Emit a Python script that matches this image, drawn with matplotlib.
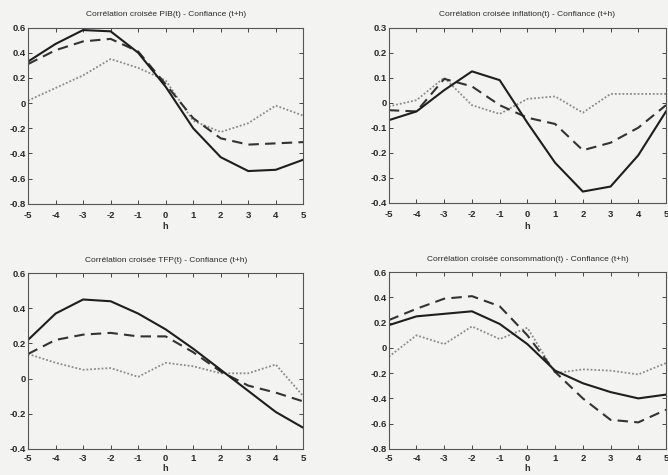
import numpy as np
import matplotlib
matplotlib.use("Agg")
import matplotlib.pyplot as plt

# horizons
h = [-5, -4, -3, -2, -1, 0, 1, 2, 3, 4, 5]

# PIB(t) - Confiance(t+h)
pib_solid = [0.33, 0.47, 0.58, 0.57, 0.40, 0.13, -0.20, -0.43, -0.54, -0.53, -0.45]
pib_dash = [0.31, 0.42, 0.49, 0.51, 0.41, 0.15, -0.12, -0.28, -0.33, -0.32, -0.31]
pib_dot = [0.02, 0.12, 0.22, 0.35, 0.28, 0.18, -0.14, -0.23, -0.16, -0.02, -0.10]

# inflation(t) - Confiance(t+h)
inf_solid = [-0.07, -0.035, 0.05, 0.125, 0.09, -0.08, -0.24, -0.355, -0.335, -0.21, -0.035]
inf_dash = [-0.03, -0.035, 0.095, 0.065, -0.01, -0.06, -0.085, -0.19, -0.16, -0.10, -0.01]
inf_dot = [-0.015, 0.01, 0.10, -0.01, -0.045, 0.015, 0.025, -0.04, 0.035, 0.035, 0.035]

# TFP(t) - Confiance(t+h)
tfp_solid = [0.22, 0.37, 0.45, 0.44, 0.37, 0.28, 0.17, 0.05, -0.07, -0.19, -0.28]
tfp_dash = [0.14, 0.22, 0.25, 0.26, 0.24, 0.24, 0.15, 0.04, -0.04, -0.08, -0.13]
tfp_dot = [0.14, 0.09, 0.05, 0.06, 0.01, 0.09, 0.07, 0.03, 0.03, 0.08, -0.10]

# consommation(t) - Confiance(t+h)
cons_solid = [0.18, 0.25, 0.27, 0.29, 0.19, 0.03, -0.18, -0.28, -0.35, -0.40, -0.37]
cons_dash = [0.22, 0.31, 0.39, 0.41, 0.33, 0.10, -0.19, -0.40, -0.57, -0.59, -0.49]
cons_dot = [-0.07, 0.10, 0.03, 0.17, 0.07, 0.16, -0.20, -0.17, -0.18, -0.21, -0.12]

titles = [
    "Corrélation croisée PIB(t) - Confiance (t+h)",
    "Corrélation croisée inflation(t) - Confiance (t+h)",
    "Corrélation croisée TFP(t) - Confiance (t+h)",
    "Corrélation croisée consommation(t) - Confiance (t+h)",
]
ylims = [(-0.8, 0.6), (-0.4, 0.3), (-0.4, 0.6), (-0.8, 0.6)]
yticks = [
    [-0.8, -0.6, -0.4, -0.2, 0, 0.2, 0.4, 0.6],
    [-0.4, -0.3, -0.2, -0.1, 0, 0.1, 0.2, 0.3],
    [-0.4, -0.2, 0, 0.2, 0.4, 0.6],
    [-0.8, -0.6, -0.4, -0.2, 0, 0.2, 0.4, 0.6],
]
series = [
    (pib_solid, pib_dash, pib_dot),
    (inf_solid, inf_dash, inf_dot),
    (tfp_solid, tfp_dash, tfp_dot),
    (cons_solid, cons_dash, cons_dot),
]
positions = [
    [0.042, 0.571, 0.412, 0.371],
    [0.582, 0.573, 0.415, 0.369],
    [0.042, 0.055, 0.412, 0.370],
    [0.582, 0.055, 0.415, 0.372],
]

plt.rcParams["font.family"] = ["Liberation Sans", "DejaVu Sans"]
plt.rcParams["axes.unicode_minus"] = False
bg = "#f3f3f1"
ink = "#2a2a2a"
fig = plt.figure(figsize=(6.68, 4.75), dpi=100, facecolor=bg)

for i, (pos, title, yl, yt, (s, d, o)) in enumerate(
        zip(positions, titles, ylims, yticks, series)):
    bottom_row = i >= 2
    ax = fig.add_axes(pos)
    ax.set_facecolor(bg)
    ax.plot(h, o, color="#8a8a8a", lw=1.3, ls=(0, (1, 1.1)))
    ax.plot(h, d, color="#333333", lw=1.5, ls=(0, (5, 3)))
    ax.plot(h, s, color="#1e1e1e", lw=1.5)
    ax.set_xlim(-5, 5)
    ax.set_ylim(*yl)
    ax.set_xticks(h)
    ax.set_yticks(yt)
    ax.set_yticklabels(["%g" % v for v in yt])
    ax.tick_params(direction="in", length=3, labelsize=6.8, width=0.6,
                   top=True, right=True, colors=ink)
    ax.tick_params(axis="x", pad=4 if bottom_row else 5)
    ax.tick_params(axis="y", pad=1.5)
    for lab in ax.get_xticklabels() + ax.get_yticklabels():
        lab.set_fontweight("bold")
    for sp in ax.spines.values():
        sp.set_color("#555555")
        sp.set_linewidth(0.8)
    ax.set_title(title, fontsize=6, pad=8, color=ink)
    ax.set_xlabel("h", fontsize=6.5, labelpad=0.5 if bottom_row else 2,
                  color=ink, fontweight="bold")

fig.savefig("out.png", dpi=100, facecolor=bg)
